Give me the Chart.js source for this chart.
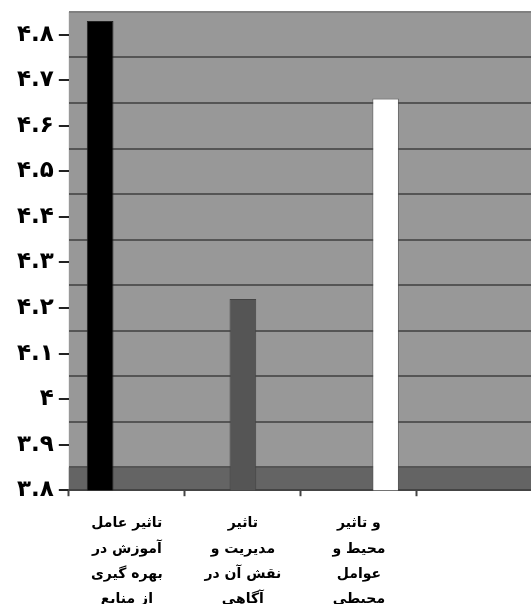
<!DOCTYPE html>
<html>
<head>
<meta charset="utf-8">
<script src="https://cdn.jsdelivr.net/npm/chart.js@4/dist/chart.umd.min.js"></script>
<style>
  html, body { margin: 0; padding: 0; background: #fff; overflow: hidden; }
  #wrap { width: 533px; height: 627px; position: relative; }
</style>
</head>
<body>
<div id="wrap"><canvas id="factorsChart"></canvas></div>
<script>
// categories (the 4th one is cut off in the source)
const categories = [
    ['تاثیر عامل', 'آموزش در', 'بهره گیری', 'از منابع'],
    ['تاثیر', 'مدیریت و', 'نقش آن در', 'آگاهی'],
    ['و تاثیر', 'محیط و', 'عوامل', 'محیطی'],
    ''
];
// one series per factor, clustered like the original
const trainingValues    = [4.83, null, null, null];
const managementValues  = [null, 4.22, null, null];
const environmentValues = [null, null, 4.66, null];

const yLabelTicks = [3.8, 3.9, 4.0, 4.1, 4.2, 4.3, 4.4, 4.5, 4.6, 4.7, 4.8];
const yGridTicks  = [3.85, 3.95, 4.05, 4.15, 4.25, 4.35, 4.45, 4.55, 4.65, 4.75, 4.85];
const yMin = 3.8, yMax = 4.85, floorTop = 3.85;

const faDigits = '۰۱۲۳۴۵۶۷۸۹';
function toFa(v) {
    let s = v.toFixed(1).replace(/\.0$/, '');
    return s.replace(/\d/g, d => faDigits[d]);
}
function isLabelTick(v) {
    return yLabelTicks.some(t => Math.abs(t - v) < 1e-6);
}
function gridColor(c) {
    if (!c.tick || isLabelTick(c.tick.value)) return 'rgba(0,0,0,0)';
    if (Math.abs(c.tick.value - yMax) < 1e-6) return '#808080';   // top edge
    return '#555';
}

// grey plot background + darker floor band
const plotBg = {
    id: 'plotBg',
    beforeDraw(chart) {
        const { ctx, chartArea: a, scales } = chart;
        ctx.save();
        ctx.fillStyle = '#989898';
        ctx.fillRect(a.left, a.top, a.width, a.bottom - a.top);
        const bandTop = scales.y.getPixelForValue(floorTop);
        ctx.fillStyle = '#646464';
        ctx.fillRect(a.left, bandTop, a.width, a.bottom - bandTop);
        ctx.restore();
    }
};

const ctx = document.getElementById('factorsChart').getContext('2d');
new Chart(ctx, {
    type: 'bar',
    data: {
        labels: categories,
        datasets: [{
            data: trainingValues,
            backgroundColor: '#000000',
            borderColor: '#222',
            borderWidth: 1
        }, {
            data: managementValues,
            backgroundColor: '#555555',
            borderColor: '#444',
            borderWidth: 1
        }, {
            data: environmentValues,
            backgroundColor: '#ffffff',
            borderColor: 'rgba(80,80,80,0.6)',
            borderWidth: 1
        }]
    },
    options: {
        responsive: true,
        maintainAspectRatio: false,
        animation: false,
        categoryPercentage: 0.69,
        barPercentage: 1.0,
        layout: {
            padding: { top: 0, right: 0, bottom: 0, left: 12 }
        },
        plugins: {
            legend: { display: false },
            tooltip: { enabled: false }
        },
        scales: {
            y: {
                min: yMin,
                max: yMax,
                afterBuildTicks: function(axis) {
                    axis.ticks = yLabelTicks.concat(yGridTicks)
                        .sort((a, b) => a - b)
                        .map(v => ({ value: v }));
                },
                border: { display: false },
                grid: {
                    color: gridColor,
                    lineWidth: 2,
                    tickColor: c => (c.tick && isLabelTick(c.tick.value)) ? '#222' : 'rgba(0,0,0,0)',
                    tickLength: 10,
                    tickWidth: 2
                },
                ticks: {
                    autoSkip: false,
                    padding: 5,
                    color: '#000',
                    font: { family: '"DejaVu Sans", sans-serif', size: 23, weight: 'bold', lineHeight: 0.6 },
                    callback: function(value) {
                        return isLabelTick(value) ? toFa(value) : '';
                    }
                }
            },
            x: {
                border: { display: true, color: '#444', width: 2 },
                grid: {
                    offset: true,
                    drawOnChartArea: false,
                    drawTicks: true,
                    tickLength: 6,
                    tickColor: '#444',
                    tickWidth: 2
                },
                ticks: {
                    autoSkip: false,
                    maxRotation: 0,
                    padding: 15,
                    color: '#000',
                    font: { family: '"DejaVu Sans", sans-serif', size: 14, weight: 'bold', lineHeight: 1.8 }
                }
            }
        }
    },
    plugins: [plotBg]
});
</script>
</body>
</html>
